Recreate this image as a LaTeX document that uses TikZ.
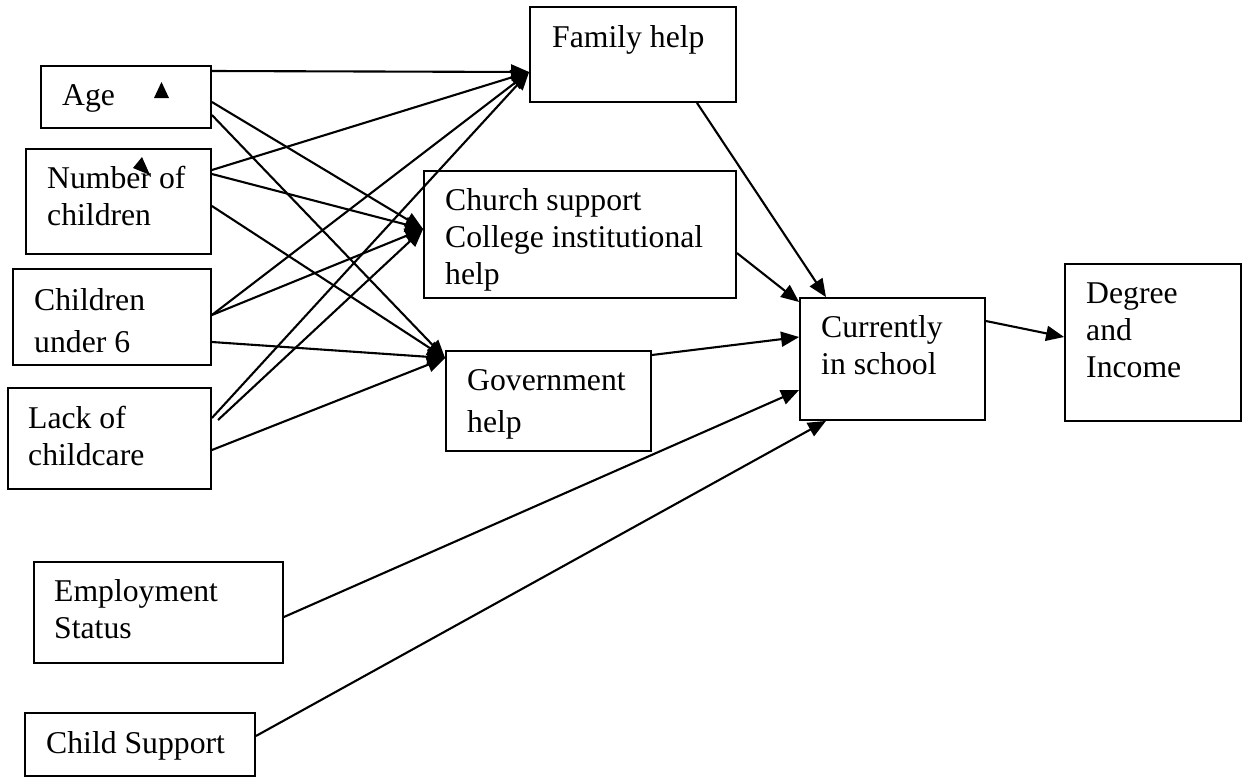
\documentclass[tikz,border=0pt]{standalone}
\usepackage{fontspec}
\setmainfont{Liberation Serif}
\usetikzlibrary{arrows.meta}
\newcommand\boxtext[1]{\begin{tabular}[t]{@{}l@{}}#1\end{tabular}}
\begin{document}
\begin{tikzpicture}[x=1pt,y=-1pt,
  box/.style={draw,line width=1.8pt,rectangle,inner sep=0pt},
  lbl/.style={anchor=base west,inner sep=0pt,font=\fontsize{31.7}{37}\selectfont},
  conn/.style={line width=2.1pt,-{Triangle[length=18pt,width=15pt]}},
  plain/.style={line width=2.1pt}]
\useasboundingbox[fill=white] (0,0) rectangle (1249,777);
% boxes
\node[box,minimum width=170pt,minimum height=62pt] (age) at (126,97) {};
\node[box,minimum width=185pt,minimum height=105pt] (noc) at (118.5,201.5) {};
\node[box,minimum width=198pt,minimum height=96pt] (cu6) at (112,317) {};
\node[box,minimum width=203pt,minimum height=101pt] (loc) at (109.5,438.5) {};
\node[box,minimum width=249pt,minimum height=101pt] (emp) at (158.5,612.5) {};
\node[box,minimum width=230pt,minimum height=63pt] (cs) at (140,744.5) {};
\node[box,minimum width=206pt,minimum height=95pt] (fam) at (633,54.5) {};
\node[box,minimum width=312pt,minimum height=127pt] (church) at (580,234.5) {};
\node[box,minimum width=205pt,minimum height=100pt] (gov) at (548.5,401) {};
\node[box,minimum width=185pt,minimum height=122pt] (cur) at (892.5,359) {};
\node[box,minimum width=176pt,minimum height=157pt] (deg) at (1153,342.5) {};
% texts
\node[lbl] (tage) at (62,105) {Age};
\node[lbl] (tnoc) at (47,188) {\boxtext{Number of\\children}};
\node[lbl] (tcu6) at (34,310) {\boxtext{Children\\[5pt]under 6}};
\node[lbl] (tloc) at (28,428) {\boxtext{Lack of\\childcare}};
\node[lbl] (temp) at (54,601) {\boxtext{Employment\\Status}};
\node[lbl] (tcs) at (46,753) {Child Support};
\node[lbl] (tfam) at (552,47) {Family help};
\node[lbl] (tchurch) at (445,210) {\boxtext{Church support\\College institutional\\help}};
\node[lbl] (tgov) at (467,390) {\boxtext{Government\\[5pt]help}};
\node[lbl] (tcur) at (821,337) {\boxtext{Currently\\in school}};
\node[lbl] (tdeg) at (1086,303) {\boxtext{Degree\\and\\Income}};
% stray arrowheads
\fill (154,98) -- (161.5,82) -- (169,98) -- cycle;
\fill (133,168) -- (142,157) -- (150,175) -- cycle;
% connectors to Family help
\draw[conn] (age.east |- 0,71) -- (fam.west |- 0,72);
\draw[conn] (noc.east |- 0,170) -- (fam.west |- 0,72);
\draw[conn] (cu6.east |- 0,315) -- (fam.west |- 0,72);
\draw[conn] (loc.east |- 0,418) -- (fam.west |- 0,72);
% connectors to Church
\draw[conn] (age.east |- 0,102) -- (church.west |- 0,229);
\draw[conn] (noc.east |- 0,174) -- (church.west |- 0,229);
\draw[conn] (cu6.east |- 0,315) -- (church.west |- 0,229);
\coordinate (stray) at (218,420);
\draw[conn] (stray) -- (church.west |- 0,229);
% connectors to Government
\draw[conn] (age.east |- 0,115) -- (gov.west |- 0,358);
\draw[conn] (noc.east |- 0,206) -- (gov.west |- 0,358);
\draw[conn] (cu6.east |- 0,342) -- (gov.west |- 0,358);
\draw[conn] (loc.east |- 0,450) -- (gov.west |- 0,358);
% connectors to Currently in school
\draw[conn] (fam.south -| 697,0) -- (cur.north -| 826,0);
\draw[conn] (church.east |- 0,253) -- (cur.west |- 0,302);
\draw[conn] (gov.east |- 0,355) -- (cur.west |- 0,337);
\draw[conn] (emp.east |- 0,617) -- (cur.west |- 0,390);
\draw[conn] (cs.east |- 0,736) -- (cur.south -| 826,0);
% to Degree
\draw[conn] (cur.east |- 0,321) -- (deg.west |- 0,337);
\end{tikzpicture}
\end{document}
